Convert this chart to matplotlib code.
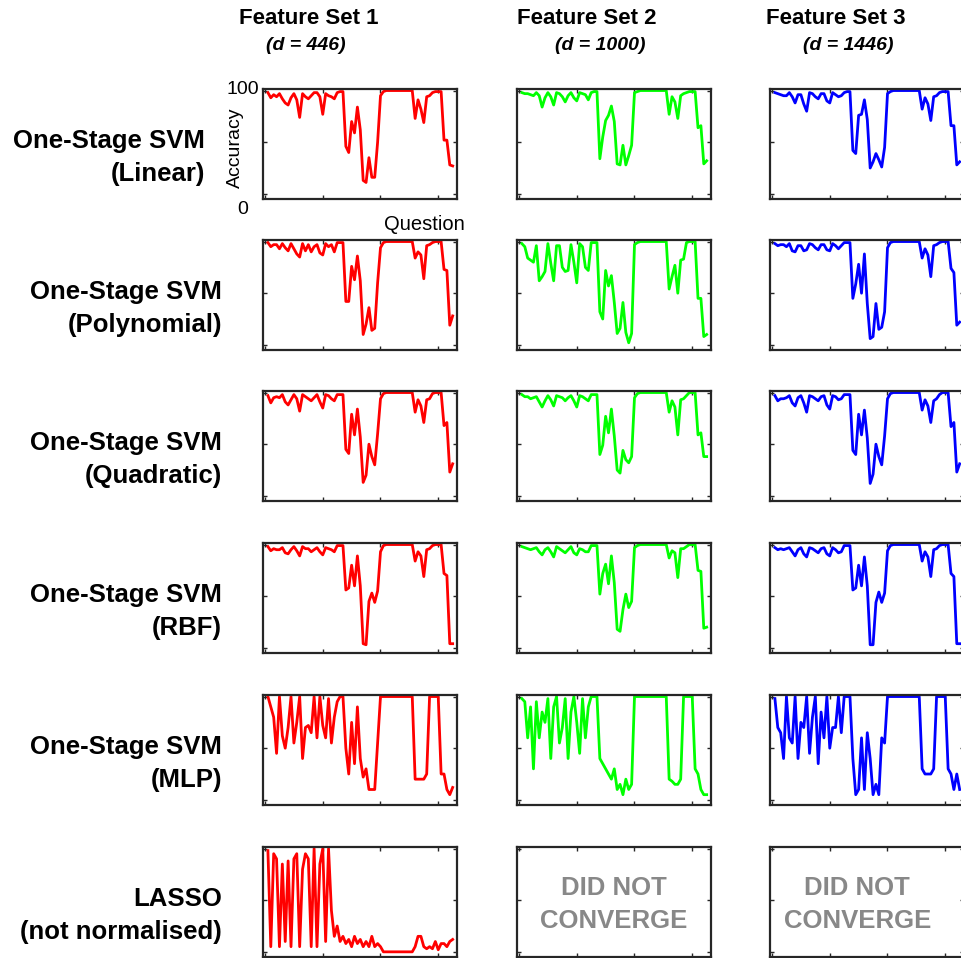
import numpy as np
import matplotlib
matplotlib.use("Agg")
import matplotlib.pyplot as plt

plt.rcParams['font.family'] = ['Liberation Sans', 'DejaVu Sans']

# accuracy per question (1..65) for each classifier / feature set
lin_fs1 = [98, 93, 96, 94, 97, 92, 88, 86, 93, 97, 91, 74, 97, 94, 92, 95, 98, 98, 94, 77,
           97, 95, 94, 92, 98, 99, 99, 46, 40, 70, 59, 84, 62, 13, 11, 35, 16, 16, 50, 95,
           99, 100, 100, 100, 100, 100, 100, 100, 100, 100, 100, 73, 91, 82, 69, 94, 95, 98, 99, 99,
           99, 52, 52, 28, 27]
lin_fs2 = [98, 97, 97, 96, 95, 98, 95, 84, 93, 98, 94, 86, 98, 97, 94, 89, 95, 98, 93, 90,
           98, 97, 96, 91, 98, 99, 99, 34, 55, 71, 76, 85, 70, 29, 28, 47, 28, 37, 47, 98,
           99, 100, 100, 100, 100, 100, 100, 100, 100, 100, 100, 77, 94, 89, 73, 95, 97, 98, 99, 99,
           99, 64, 66, 29, 32]
lin_fs3 = [98, 97, 96, 95, 95, 98, 94, 88, 96, 96, 87, 80, 98, 97, 94, 92, 97, 97, 90, 88,
           98, 96, 94, 95, 98, 99, 99, 42, 39, 76, 77, 91, 72, 25, 31, 39, 33, 26, 45, 97,
           99, 100, 100, 100, 100, 100, 100, 100, 100, 100, 100, 82, 93, 87, 71, 94, 95, 98, 99, 99,
           99, 66, 66, 28, 31]

poly_fs1 = [99, 95, 97, 97, 93, 98, 94, 91, 98, 93, 88, 85, 98, 91, 97, 90, 95, 97, 89, 87,
            98, 95, 97, 90, 99, 99, 99, 42, 42, 76, 63, 86, 62, 10, 20, 36, 14, 16, 60, 94,
            99, 100, 100, 100, 100, 100, 100, 100, 100, 100, 100, 84, 90, 87, 64, 96, 97, 99, 100, 100,
            100, 73, 72, 19, 28]
poly_fs2 = [98, 95, 84, 82, 80, 96, 62, 66, 71, 98, 79, 62, 96, 96, 75, 71, 72, 97, 80, 60,
            98, 95, 75, 72, 99, 99, 99, 32, 25, 72, 57, 67, 41, 11, 16, 41, 12, 2, 11, 97,
            99, 100, 100, 100, 100, 100, 100, 100, 100, 100, 100, 54, 66, 77, 50, 82, 83, 99, 100, 100,
            100, 45, 45, 8, 10]
poly_fs3 = [98, 96, 97, 97, 95, 98, 91, 90, 96, 96, 91, 92, 98, 97, 94, 92, 97, 97, 92, 91,
            98, 96, 93, 96, 99, 99, 99, 45, 59, 78, 50, 88, 40, 6, 8, 40, 15, 17, 32, 94,
            99, 100, 100, 100, 100, 100, 100, 100, 100, 100, 100, 84, 93, 87, 66, 96, 97, 99, 100, 100,
            100, 74, 70, 19, 22]

quad_fs1 = [97, 90, 95, 96, 95, 98, 91, 88, 93, 98, 94, 82, 98, 96, 94, 92, 95, 98, 91, 85,
            98, 97, 94, 92, 98, 98, 98, 45, 41, 79, 59, 84, 57, 13, 20, 50, 38, 30, 60, 94,
            99, 100, 100, 100, 100, 100, 100, 100, 100, 100, 100, 81, 93, 87, 71, 93, 94, 99, 100, 100,
            100, 68, 71, 23, 31]
quad_fs2 = [98, 96, 96, 94, 95, 96, 91, 86, 92, 97, 93, 87, 97, 96, 95, 92, 95, 97, 92, 86,
            97, 96, 94, 92, 98, 98, 98, 40, 49, 77, 61, 84, 58, 25, 22, 44, 35, 32, 38, 95,
            99, 100, 100, 100, 100, 100, 100, 100, 100, 100, 100, 81, 92, 86, 59, 93, 94, 97, 100, 100,
            100, 59, 61, 38, 38]
quad_fs3 = [97, 92, 94, 94, 95, 97, 90, 87, 95, 97, 90, 81, 97, 96, 94, 92, 96, 97, 88, 84,
            97, 96, 93, 94, 98, 98, 98, 44, 40, 79, 59, 83, 56, 12, 21, 50, 38, 30, 58, 94,
            99, 100, 100, 100, 100, 100, 100, 100, 100, 100, 100, 83, 93, 87, 71, 92, 94, 98, 100, 100,
            100, 67, 71, 23, 31]

rbf_fs1 = [98, 94, 96, 95, 95, 97, 92, 91, 95, 98, 94, 89, 98, 96, 96, 93, 95, 97, 93, 90,
           97, 96, 95, 93, 99, 99, 99, 56, 58, 80, 60, 89, 60, 4, 3, 45, 53, 44, 55, 93,
           99, 100, 100, 100, 100, 100, 100, 100, 100, 100, 100, 84, 93, 89, 69, 95, 96, 99, 100, 100,
           100, 72, 70, 4, 4]
rbf_fs2 = [98, 97, 96, 95, 96, 97, 93, 90, 95, 97, 93, 88, 98, 96, 94, 92, 95, 98, 92, 90,
           96, 95, 93, 93, 99, 99, 99, 52, 72, 81, 62, 89, 63, 18, 16, 37, 52, 39, 45, 97,
           99, 100, 100, 100, 100, 100, 100, 100, 100, 100, 100, 87, 94, 92, 68, 96, 96, 98, 100, 100,
           100, 75, 74, 19, 20]
rbf_fs3 = [97, 95, 96, 95, 96, 97, 93, 89, 95, 97, 91, 88, 97, 96, 94, 92, 96, 97, 91, 89,
           97, 95, 92, 93, 99, 99, 99, 56, 58, 80, 60, 88, 60, 3, 3, 44, 54, 44, 53, 94,
           99, 100, 100, 100, 100, 100, 100, 100, 100, 100, 100, 84, 93, 88, 69, 95, 96, 99, 100, 100,
           100, 72, 69, 4, 4]

mlp_fs1 = [100, 90, 80, 45, 100, 62, 50, 70, 100, 55, 75, 100, 40, 70, 72, 65, 100, 60, 100, 72,
           60, 98, 55, 80, 95, 100, 100, 50, 25, 75, 35, 90, 40, 22, 30, 10, 10, 10, 55, 100,
           100, 100, 100, 100, 100, 100, 100, 100, 100, 100, 100, 20, 20, 20, 20, 25, 100, 100, 100, 100,
           25, 25, 10, 5, 12]
mlp_fs2 = [98, 95, 60, 90, 30, 95, 60, 85, 75, 98, 40, 90, 100, 55, 70, 98, 40, 85, 100, 75,
           45, 98, 60, 90, 100, 100, 100, 40, 35, 30, 25, 20, 30, 10, 15, 5, 20, 10, 15, 100,
           100, 100, 100, 100, 100, 100, 100, 100, 100, 100, 100, 20, 18, 15, 15, 20, 100, 100, 100, 100,
           30, 25, 10, 5, 5]
mlp_fs3 = [98, 70, 65, 40, 100, 60, 55, 100, 40, 75, 70, 100, 45, 80, 100, 35, 85, 60, 100, 50,
           70, 70, 100, 65, 100, 100, 100, 40, 5, 10, 60, 10, 65, 40, 5, 15, 5, 60, 55, 100,
           100, 100, 100, 100, 100, 100, 100, 100, 100, 100, 100, 30, 25, 25, 25, 30, 100, 100, 100, 100,
           30, 25, 10, 25, 10]

lasso_fs1 = [98, 5, 95, 90, 5, 85, 10, 88, 5, 90, 95, 5, 80, 95, 90, 5, 100, 5, 85, 100,
             10, 100, 40, 15, 25, 10, 15, 8, 12, 5, 15, 8, 12, 5, 10, 5, 15, 5, 8, 5,
             0, 0, 0, 0, 0, 0, 0, 0, 0, 0, 0, 5, 15, 15, 5, 3, 5, 3, 10, 2,
             8, 8, 5, 10, 12]

questions = np.arange(1, 66)
row_labels = [("One-Stage SVM", "(Linear)"), ("One-Stage SVM", "(Polynomial)"),
              ("One-Stage SVM", "(Quadratic)"), ("One-Stage SVM", "(RBF)"),
              ("One-Stage SVM", "(MLP)"), ("LASSO", "(not normalised)")]
col_titles = ["Feature Set 1", "Feature Set 2", "Feature Set 3"]
col_dims = ["(d = 446)", "(d = 1000)", "(d = 1446)"]
colors = ["#ff0000", "#00ff00", "#0000ff"]

data = [[lin_fs1, lin_fs2, lin_fs3],
        [poly_fs1, poly_fs2, poly_fs3],
        [quad_fs1, quad_fs2, quad_fs3],
        [rbf_fs1, rbf_fs2, rbf_fs3],
        [mlp_fs1, mlp_fs2, mlp_fs3],
        [lasso_fs1, None, None]]

W, H = 961, 958
fig = plt.figure(figsize=(W / 100, H / 100), dpi=100)

col_left = [263, 517, 770]
row_top = [89, 240, 391, 543, 695, 847]
aw, ah = 194, 110
title_x = [309, 587, 836]
dim_x = [306, 600, 848]

for r, top in enumerate(row_top):
    for c, left in enumerate(col_left):
        ax = fig.add_axes([left / W, 1 - (top + ah) / H, aw / W, ah / H])
        vals = data[r][c]
        if vals is not None:
            ax.plot(questions, vals, color=colors[c], lw=2.0)
        else:
            tx = 0.5 if c == 1 else 0.45
            ax.text(tx, 0.63, "DID NOT", transform=ax.transAxes,
                    ha="center", va="center", fontsize=18.5, fontweight="bold", color="#888888")
            ax.text(tx, 0.33, "CONVERGE", transform=ax.transAxes,
                    ha="center", va="center", fontsize=18.5, fontweight="bold", color="#888888")
        ax.set_xlim(-0.7, 66.5)
        ax.set_ylim(-5, 101.5)
        ax.set_xticks([0, 20, 40, 60])
        ax.set_yticks([0, 50, 100])
        ax.tick_params(direction="in", top=True, right=True, length=3, width=1,
                       color="#262626", labelbottom=False, labelleft=False)
        for s in ax.spines.values():
            s.set_linewidth(1.6)
            s.set_color("#262626")

    # row labels
    cy = top + ah / 2
    rx = 205 if r == 0 else 222
    fig.text(rx / W, 1 - (cy - 3) / H, row_labels[r][0], ha="right", va="center",
             fontsize=18.5, fontweight="bold")
    fig.text(rx / W, 1 - (cy + 30) / H, row_labels[r][1], ha="right", va="center",
             fontsize=18.5, fontweight="bold")

for c in range(3):
    fig.text(title_x[c] / W, 1 - 19 / H, col_titles[c], ha="center", va="center",
             fontsize=16, fontweight="bold")
    fig.text(dim_x[c] / W, 1 - 46 / H, col_dims[c], ha="center", va="center",
             fontsize=14, fontweight="bold", style="italic")

# axis annotations on the first panel only
fig.text(243 / W, 1 - 90 / H, "100", ha="center", va="center", fontsize=14)
fig.text(243 / W, 1 - 210 / H, "0", ha="center", va="center", fontsize=14)
fig.text(235 / W, 1 - 148 / H, "Accuracy", ha="center", va="center", fontsize=14, rotation=90)
fig.text(465 / W, 1 - 224 / H, "Question", ha="right", va="center", fontsize=14.5)

fig.savefig("out.png", dpi=100)
